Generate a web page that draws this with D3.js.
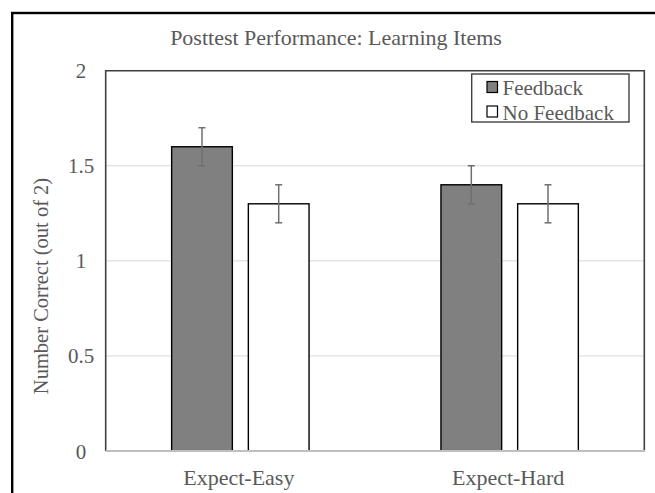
<!DOCTYPE html>
<html><head><meta charset="utf-8">
<script src="https://cdn.jsdelivr.net/npm/d3@7"></script>
<style>html,body{margin:0;padding:0;background:#fff;}svg{display:block;}</style>
</head><body>
<script>
const categories = ["Expect-Easy", "Expect-Hard"];
const seriesNames = ["Feedback", "No Feedback"];
const feedbackValues = [1.6, 1.4];
const noFeedbackValues = [1.3, 1.3];
const feedbackErrors = [0.1, 0.1];
const noFeedbackErrors = [0.1, 0.1];
const yTicks = [0, 0.5, 1, 1.5, 2];
const yTickLabels = ["0", "0.5", "1", "1.5", "2"];
const seriesColors = ["#808080", "#ffffff"];

const W = 655, H = 493;
const svg = d3.select("body").append("svg").attr("width", W).attr("height", H);
const font = "'Liberation Serif','Times New Roman',serif";
const textColor = "#595959";

// outer border
svg.append("rect").attr("x", 12.2).attr("y", 13).attr("width", 660).attr("height", 500)
  .attr("fill", "none").attr("stroke", "#000").attr("stroke-width", 2.4);

const plot = {left: 105.7, top: 70.7, right: 644.3, bottom: 451};
const y = d3.scaleLinear().domain([0, 2]).range([plot.bottom, plot.top]);
const x0 = d3.scaleBand().domain(categories).range([plot.left, plot.right]).paddingInner(0).paddingOuter(0);
const groupInner = 0.5102; // fraction of band used by bars+gap
const x1 = d3.scaleBand().domain(seriesNames)
  .range([0, x0.bandwidth() * groupInner]).paddingInner(0.2086).paddingOuter(0);
const groupOffset = (x0.bandwidth() - x0.bandwidth() * groupInner) / 2;

// gridlines
svg.append("g").selectAll("line").data(yTicks.filter(t => t > 0 && t < 2)).join("line")
  .attr("x1", plot.left).attr("x2", plot.right)
  .attr("y1", d => y(d)).attr("y2", d => y(d))
  .attr("stroke", "#d9d9d9").attr("stroke-width", 1);

// y tick labels
svg.append("g").selectAll("text").data(yTicks).join("text")
  .attr("x", 81).attr("y", d => y(d) + 7.5)
  .attr("text-anchor", "middle").attr("font-family", font).attr("font-size", 21)
  .attr("fill", textColor).text((d, i) => yTickLabels[i]);

// bars
const rows = categories.map((c, i) => [
  {cat: c, s: seriesNames[0], v: feedbackValues[i], e: feedbackErrors[i], color: seriesColors[0]},
  {cat: c, s: seriesNames[1], v: noFeedbackValues[i], e: noFeedbackErrors[i], color: seriesColors[1]}
]).flat();

svg.append("g").selectAll("rect").data(rows).join("rect")
  .attr("x", d => x0(d.cat) + groupOffset + x1(d.s))
  .attr("y", d => y(d.v))
  .attr("width", x1.bandwidth())
  .attr("height", d => y(0) - y(d.v))
  .attr("fill", d => d.color).attr("stroke", "#000").attr("stroke-width", 1.4);

// error bars
const eb = svg.append("g").attr("stroke", "#6f6f6f").attr("stroke-width", 1.5).attr("fill", "none");
rows.forEach(d => {
  const cx = x0(d.cat) + groupOffset + x1(d.s) + x1.bandwidth() / 2;
  eb.append("line").attr("x1", cx).attr("x2", cx).attr("y1", y(d.v + d.e)).attr("y2", y(d.v - d.e));
  eb.append("line").attr("x1", cx - 3.5).attr("x2", cx + 3.5).attr("y1", y(d.v + d.e)).attr("y2", y(d.v + d.e));
  eb.append("line").attr("x1", cx - 3.5).attr("x2", cx + 3.5).attr("y1", y(d.v - d.e)).attr("y2", y(d.v - d.e));
});

// frame
svg.append("path")
  .attr("d", `M${plot.left},${plot.bottom}V${plot.top}H${plot.right}V${plot.bottom}`)
  .attr("fill", "none").attr("stroke", "#404040").attr("stroke-width", 1.6);
svg.append("line").attr("x1", plot.left).attr("x2", plot.right + 0.8)
  .attr("y1", plot.bottom).attr("y2", plot.bottom)
  .attr("stroke", "#bfbfbf").attr("stroke-width", 2);

// category labels
svg.append("g").selectAll("text").data(categories).join("text")
  .attr("x", d => x0(d) + x0.bandwidth() / 2 - 1.5).attr("y", 485)
  .attr("text-anchor", "middle").attr("font-family", font).attr("font-size", 22)
  .attr("fill", textColor).text(d => d);

// title
svg.append("text").attr("x", 336).attr("y", 44.5).attr("text-anchor", "middle")
  .attr("font-family", font).attr("font-size", 22).attr("fill", textColor)
  .text("Posttest Performance: Learning Items");

// y label
svg.append("text").attr("transform", `translate(48,286) rotate(-90)`)
  .attr("text-anchor", "middle").attr("font-family", font).attr("font-size", 20.5)
  .attr("fill", textColor).text("Number Correct (out of 2)");

// legend
const lg = svg.append("g");
lg.append("rect").attr("x", 471.7).attr("y", 74).attr("width", 157.3).attr("height", 48)
  .attr("fill", "#fff").attr("stroke", "#404040").attr("stroke-width", 1.4);
seriesNames.forEach((s, i) => {
  const yy = 81.5 + i * 24.5;
  lg.append("rect").attr("x", 487).attr("y", yy).attr("width", 10.5).attr("height", 11)
    .attr("fill", seriesColors[i]).attr("stroke", "#000").attr("stroke-width", 1.2);
  lg.append("text").attr("x", 502.5).attr("y", yy + 13.5).attr("font-family", font).attr("font-size", 21)
    .attr("fill", textColor).text(s);
});
</script>
</body></html>
